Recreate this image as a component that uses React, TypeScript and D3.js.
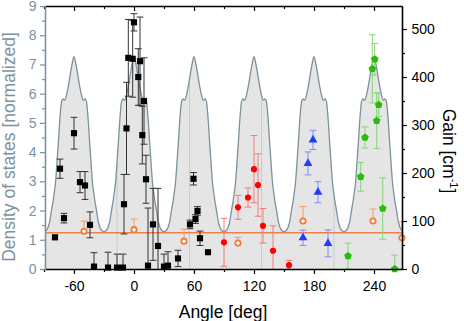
import React, { useEffect, useRef } from 'react';
import * as d3 from 'd3';

// one DOS peak: offset from peak centre [deg] -> normalized DOS
const peakCentres = [-60, 0, 60, 120, 180, 240];
const profileOffset = [0, 2, 4, 6, 8, 9.5, 11, 12.5, 13.5, 14.5, 15.5, 16.5, 17.5, 18.5, 20, 21, 22, 23, 24.3, 26, 28, 30];
const profileDos = [7.27, 7.0, 6.6, 6.2, 5.88, 5.77, 5.82, 5.72, 5.4, 4.95, 4.4, 3.9, 3.4, 2.95, 2.55, 2.3, 2.1, 1.9, 1.62, 1.42, 1.31, 1.28];
const seamAngles = [-17, 55.5, 127.5, 200];
const lossLevel = 1.24;

// measured gain [cm^-1] with errors
const blackAngle = [-79, -74, -70, -60, -54, -49, -44, -40, -26, -17, -11, -10, -7.5, -5.7, -1.3, 0, 4.3, 6, 8.3, 10, 12, 14, 19, 24, 30, 34, 44, 56, 59.5, 61.5, 63.5, 66, 74];
const blackGain = [66, 209, 106, 283, 181, 174, 92, 5, 3, 3, 3, 135, 293, 440, 438, 514, 400, 433, 279, 350, 187, 7, 93, 48, 5, 7, 22, 93, 188, 104, 121, 64, 35];
const blackErr = [0, 20, 10, 33, 22, 29, 27, 29, 32, 28, 28, 62, 96, 80, 80, 18, 59, 92, 60, 90, 50, 120, 75, 120, 26, 29, 17, 9, 13, 9, 9, 15, 0];

const redAngle = [90, 104, 114, 120, 124, 129, 139, 155];
const redGain = [55.6, 128.5, 149, 208, 175, 90, 38, 8];
const redErr = [50, 25, 20, 70, 65, 36, 52, 10];

const blueAngle = [169, 174, 179, 184, 194];
const blueGain = [65, 220, 269, 160, 53.5];
const blueErr = [16, 24, 20, 22, 28];

const greenAngle = [214, 226.7, 231, 238.3, 240.7, 242.7, 244.7, 248.7, 260.7];
const greenGain = [27, 192, 274, 417, 437, 309, 342, 126, 0];
const greenErr = [27, 30, 22, 71, 33, 58, 24, 64, 29];

const orangeAngle = [-50, 0, 50, 104, 169, 239, 268];
const orangeGain = [78.5, 82, 58, 54, 100, 100, 65];
const orangeErr = [21.5, 22, 25, 12, 30, 25, 33];

const xTicks = [-60, 0, 60, 120, 180, 240];
const xMinorTicks = [-90, -30, 30, 90, 150, 210];
const dosTicks = [0, 1, 2, 3, 4, 5, 6, 7, 8, 9];
const dosMinorTicks = [0.5, 1.5, 2.5, 3.5, 4.5, 5.5, 6.5, 7.5, 8.5];
const gainTicks = [0, 100, 200, 300, 400, 500];
const gainMinorTicks = [50, 150, 250, 350, 450];

const W = 464;
const H = 321;
const X0 = 45;
const X1 = 402;
const Y0 = 269;
const Y1 = 6;
const FONT = '"Liberation Sans", Arial, sans-serif';
const DOS_COLOR = '#7c929d';

const symbolPentagon = {
	draw(ctx, size) {
		const r = Math.sqrt(size / 2.378);
		for (let i = 0; i < 5; i++) {
			const a = -Math.PI / 2 + i * 2 * Math.PI / 5;
			const px = r * Math.cos(a);
			const py = r * Math.sin(a);
			if (i === 0) ctx.moveTo(px, py); else ctx.lineTo(px, py);
		}
		ctx.closePath();
	}
};

const drawChart = (node) => {
	const svg = d3.select(node);
	svg.selectAll('*').remove();

	const x = d3.scaleLinear().domain([-89, 268]).range([X0, X1]);
	const yDos = d3.scaleLinear().domain([0, 9]).range([Y0, Y1]);
	const yGain = d3.scaleLinear().domain([0, 548]).range([Y0, Y1]);

	// build the periodic DOS curve from the single-peak profile
	const pts = [];
	peakCentres.forEach((c) => {
		for (let i = profileOffset.length - 1; i >= 0; i--) pts.push([c - profileOffset[i], profileDos[i]]);
		for (let i = 1; i < profileOffset.length; i++) pts.push([c + profileOffset[i], profileDos[i]]);
	});
	const dos = pts.filter((p, i) => i === 0 || p[0] !== pts[i - 1][0]);

	const area = d3.area().x((d) => x(d[0])).y0(Y0).y1((d) => yDos(d[1])).curve(d3.curveMonotoneX);
	const line = d3.line().x((d) => x(d[0])).y((d) => yDos(d[1])).curve(d3.curveMonotoneX);

	const defs = svg.append('defs');
	defs.append('clipPath').attr('id', 'plotClip')
		.append('rect').attr('x', X0).attr('y', Y1).attr('width', X1 - X0).attr('height', Y0 - Y1);
	defs.append('clipPath').attr('id', 'areaClip')
		.append('path').attr('d', area(dos));

	const plot = svg.append('g').attr('clip-path', 'url(#plotClip)');
	plot.append('path').attr('d', area(dos)).attr('fill', '#e5e5e5');
	plot.append('g').attr('clip-path', 'url(#areaClip)')
		.selectAll('line').data(seamAngles).enter().append('line')
		.attr('x1', (d) => x(d)).attr('x2', (d) => x(d))
		.attr('y1', Y1).attr('y2', Y0)
		.attr('stroke', '#c3cdd2').attr('stroke-width', 1);
	plot.append('path').attr('d', line(dos)).attr('fill', 'none')
		.attr('stroke', DOS_COLOR).attr('stroke-width', 1.3);
	plot.append('line').attr('x1', X0).attr('x2', X1)
		.attr('y1', yDos(lossLevel)).attr('y2', yDos(lossLevel))
		.attr('stroke', '#f0804a').attr('stroke-width', 1.3);

	const series = [
		{ angle: blackAngle, gain: blackGain, err: blackErr, type: d3.symbolSquare, size: 38, fill: '#000', stroke: 'none', errColor: '#333', upperOnly: false },
		{ angle: redAngle, gain: redGain, err: redErr, type: d3.symbolCircle, size: 30, fill: '#ff0000', stroke: 'none', errColor: '#f27a7a', upperOnly: false },
		{ angle: blueAngle, gain: blueGain, err: blueErr, type: d3.symbolTriangle, size: 34, fill: '#1f3cff', stroke: 'none', errColor: '#7f8df5', upperOnly: false },
		{ angle: greenAngle, gain: greenGain, err: greenErr, type: symbolPentagon, size: 38, fill: '#2bbb0e', stroke: 'none', errColor: '#86d675', upperOnly: false },
		{ angle: orangeAngle, gain: orangeGain, err: orangeErr, type: d3.symbolCircle, size: 22, fill: '#fff', stroke: '#f47a30', errColor: '#f59a68', upperOnly: true }
	];

	const bars = svg.append('g').attr('clip-path', 'url(#plotClip)');
	const marks = svg.append('g');
	series.forEach((s) => {
		s.angle.forEach((a, i) => {
			const e = s.err[i];
			const cx = x(a);
			if (e > 0) {
				const top = yGain(s.gain[i] + e);
				const bot = s.upperOnly ? yGain(s.gain[i]) : yGain(s.gain[i] - e);
				bars.append('line').attr('x1', cx).attr('x2', cx).attr('y1', top).attr('y2', bot)
					.attr('stroke', s.errColor).attr('stroke-width', 1);
				bars.append('line').attr('x1', cx - 3.4).attr('x2', cx + 3.4).attr('y1', top).attr('y2', top)
					.attr('stroke', s.errColor).attr('stroke-width', 1);
				if (!s.upperOnly) {
					bars.append('line').attr('x1', cx - 3.4).attr('x2', cx + 3.4).attr('y1', bot).attr('y2', bot)
						.attr('stroke', s.errColor).attr('stroke-width', 1);
				}
			}
		});
		marks.selectAll(null).data(s.angle).enter().append('path')
			.attr('transform', (a, i) => `translate(${ x(a) },${ yGain(s.gain[i]) })`)
			.attr('d', d3.symbol().type(s.type).size(s.size))
			.attr('fill', s.fill)
			.attr('stroke', s.stroke)
			.attr('stroke-width', 1.8);
	});

	const styleAxis = (g, color) => {
		g.select('.domain').attr('stroke', color).attr('stroke-width', 1.6);
		g.selectAll('.tick line').attr('stroke', color).attr('stroke-width', 1.2);
		g.selectAll('.tick text').attr('fill', color).style('font-family', FONT).style('font-size', '14px');
	};

	// bottom
	const gb = svg.append('g').attr('transform', `translate(0,${ Y0 })`)
		.call(d3.axisBottom(x).tickValues(xTicks).tickSize(5).tickSizeOuter(0).tickPadding(7).tickFormat((d) => String(d)));
	styleAxis(gb, '#000');
	svg.append('g').attr('transform', `translate(0,${ Y0 })`)
		.call(d3.axisBottom(x).tickValues(xMinorTicks).tickSize(3).tickSizeOuter(0).tickFormat(() => ''))
		.call((g) => { g.select('.domain').remove(); g.selectAll('.tick line').attr('stroke', '#000').attr('stroke-width', 1.2); });

	// top
	const gt = svg.append('g').attr('transform', `translate(0,${ Y1 })`)
		.call(d3.axisTop(x).tickValues(xTicks).tickSize(-5).tickSizeOuter(0).tickFormat(() => ''));
	styleAxis(gt, '#000');
	svg.append('g').attr('transform', `translate(0,${ Y1 })`)
		.call(d3.axisTop(x).tickValues(xMinorTicks).tickSize(-3).tickSizeOuter(0).tickFormat(() => ''))
		.call((g) => { g.select('.domain').remove(); g.selectAll('.tick line').attr('stroke', '#000').attr('stroke-width', 1.2); });

	// left (DOS)
	const gl = svg.append('g').attr('transform', `translate(${ X0 },0)`)
		.call(d3.axisLeft(yDos).tickValues(dosTicks).tickSize(5).tickSizeOuter(0).tickPadding(3.5).tickFormat((d) => String(d)));
	styleAxis(gl, DOS_COLOR);
	svg.append('g').attr('transform', `translate(${ X0 },0)`)
		.call(d3.axisLeft(yDos).tickValues(dosMinorTicks).tickSize(3).tickSizeOuter(0).tickFormat(() => ''))
		.call((g) => { g.select('.domain').remove(); g.selectAll('.tick line').attr('stroke', DOS_COLOR).attr('stroke-width', 1.2); });

	// right (gain)
	const gr = svg.append('g').attr('transform', `translate(${ X1 },0)`)
		.call(d3.axisRight(yGain).tickValues(gainTicks).tickSize(5).tickSizeOuter(0).tickPadding(4.5).tickFormat((d) => String(d)));
	styleAxis(gr, '#000');
	svg.append('g').attr('transform', `translate(${ X1 },0)`)
		.call(d3.axisRight(yGain).tickValues(gainMinorTicks).tickSize(3).tickSizeOuter(0).tickFormat(() => ''))
		.call((g) => { g.select('.domain').remove(); g.selectAll('.tick line').attr('stroke', '#000').attr('stroke-width', 1.2); });

	// titles
	svg.append('text').attr('transform', 'translate(15,147) rotate(-90)')
		.attr('text-anchor', 'middle').attr('fill', DOS_COLOR)
		.style('font-family', FONT).style('font-size', '17.5px')
		.text('Density of states [normalized]');
	svg.append('text').attr('x', 223).attr('y', 318)
		.attr('text-anchor', 'middle').attr('fill', '#000')
		.style('font-family', FONT).style('font-size', '17.5px')
		.text('Angle [deg]');
	const gainTitle = svg.append('text').attr('transform', 'translate(443,151) rotate(90)')
		.attr('text-anchor', 'middle').attr('fill', '#000')
		.style('font-family', FONT).style('font-size', '17.5px');
	gainTitle.append('tspan').text('Gain [cm');
	gainTitle.append('tspan').attr('dy', -7).style('font-size', '11px').text('-1');
	gainTitle.append('tspan').attr('dy', 7).text(']');
};

const App = () => {
	const ref = useRef(null);

	useEffect(() => drawChart(ref.current), []);

	return (
		<svg ref={ ref } width={ W } height={ H }
			style={ { position: 'absolute', left: 0, top: 0, background: '#fff' } }/>
	);
};

export default App;
